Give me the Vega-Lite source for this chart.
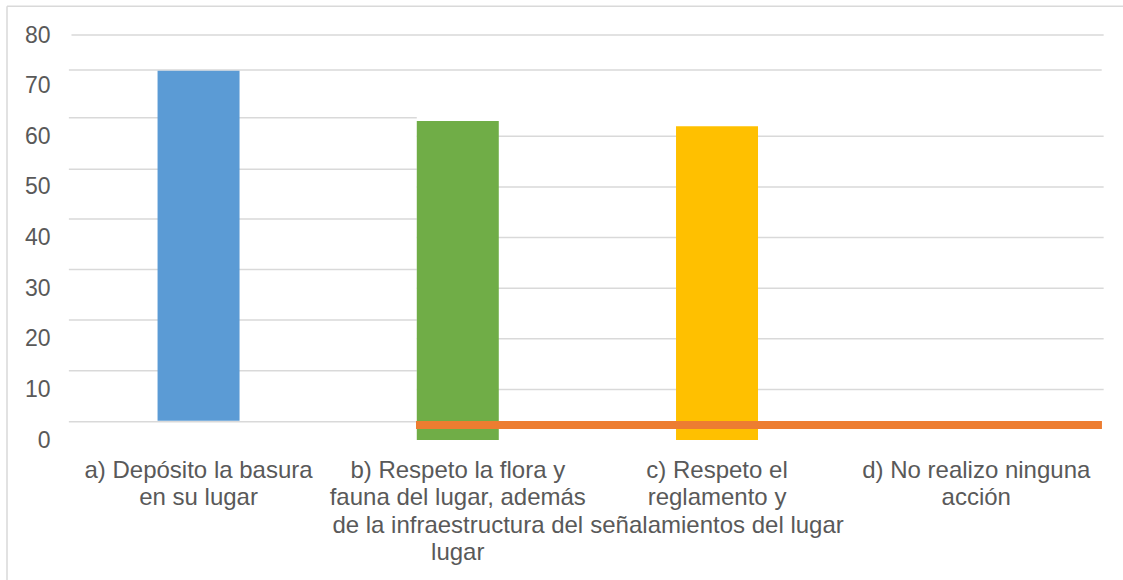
{
  "$schema": "https://vega.github.io/schema/vega-lite/v6.json",
  "width": 1116.5,
  "height": 574.3,
  "autosize": {"type": "none"},
  "padding": {"left": 6.5, "top": 5.7, "right": 0, "bottom": 0},
  "background": "white",
  "config": {"view": {"stroke": null}, "font": "Liberation Sans"},
  "datasets": {
    "barras": [
      {"categoria": "a) Depósito la basura\nen su lugar", "desde": 3.8, "hasta": 72.95},
      {"categoria": "b) Respeto la flora y\nfauna del lugar, además\nde la infraestructura del\nlugar", "desde": 0, "hasta": 63},
      {"categoria": "c) Respeto el\nreglamento y\nseñalamientos del lugar", "desde": 0, "hasta": 62},
      {"categoria": "d) No realizo ninguna\nacción", "desde": 0, "hasta": 0}
    ],
    "grid": [
      {"valor": 80, "desde": -0.49, "hasta": 3.4916},
      {"valor": 73.1, "desde": -0.5, "hasta": 3.484},
      {"valor": 63.66, "desde": -0.5, "hasta": 0.842},
      {"valor": 53.5, "desde": -0.5, "hasta": 0.842},
      {"valor": 43.65, "desde": -0.5, "hasta": 0.842},
      {"valor": 33.7, "desde": -0.5, "hasta": 0.842},
      {"valor": 23.7, "desde": -0.5, "hasta": 0.842},
      {"valor": 13.7, "desde": -0.5, "hasta": 0.842},
      {"valor": 3.6, "desde": -0.5, "hasta": 0.842},
      {"valor": 60, "desde": 0.842, "hasta": 3.4916},
      {"valor": 50, "desde": 0.842, "hasta": 3.4916},
      {"valor": 40, "desde": 0.842, "hasta": 3.4916},
      {"valor": 30, "desde": 0.842, "hasta": 3.4916},
      {"valor": 20, "desde": 0.842, "hasta": 3.4916},
      {"valor": 10, "desde": 0.842, "hasta": 3.4916}
    ],
    "serie": [
      {"valor": 2.96, "desde": 0.839, "hasta": 3.485}
    ]
  },
  "layer": [
    {
      "data": {"name": "grid"},
      "mark": {"type": "rule", "color": "#d9d9d9", "strokeWidth": 1.5},
      "encoding": {
        "x": {"field": "desde", "type": "quantitative", "scale": {"domain": [-0.7406, 3.5662], "nice": false, "zero": false},
          "axis": {"orient": "top", "title": null, "domain": true, "domainColor": "#d9d9d9", "domainWidth": 1.5, "ticks": false, "labels": false, "grid": false}},
        "x2": {"field": "hasta"},
        "y": {"field": "valor", "type": "quantitative", "scale": {"domain": [-27.654, 85.788], "nice": false, "zero": false},
          "axis": {"orient": "left", "title": null, "values": [0, 10, 20, 30, 40, 50, 60, 70, 80], "domain": true, "domainColor": "#d9d9d9", "domainWidth": 1.5, "ticks": false, "tickSize": 0, "grid": false, "labelPadding": -43.5, "labelFont": "Liberation Sans", "labelFontSize": 23, "labelColor": "#595959", "labelBaseline": "middle", "labelAlign": "right"}}
      }
    },
    {
      "data": {"name": "barras"},
      "mark": {"type": "bar"},
      "encoding": {
        "x": {"field": "categoria", "type": "nominal", "sort": null,
          "scale": {"range": [62.4, 1099.4], "paddingInner": 0.6837, "paddingOuter": 0.342},
          "axis": {"orient": "bottom", "title": null, "domain": false, "ticks": false, "tickSize": 0, "grid": false, "labelAngle": 0, "labelPadding": -122, "labelFont": "Liberation Sans", "labelFontSize": 24, "labelColor": "#595959", "labelLineHeight": 27.5, "labelLimit": 1000, "labelOverlap": false, "labelBaseline": "top", "labelExpr": "split(datum.label, '\\n')"}},
        "y": {"field": "desde", "type": "quantitative", "scale": {"domain": [-27.654, 85.788], "nice": false, "zero": false},
          "axis": {"orient": "left", "title": null, "values": [0, 10, 20, 30, 40, 50, 60, 70, 80], "domain": true, "domainColor": "#d9d9d9", "domainWidth": 1.5, "ticks": false, "tickSize": 0, "grid": false, "labelPadding": -43.5, "labelFont": "Liberation Sans", "labelFontSize": 23, "labelColor": "#595959", "labelBaseline": "middle", "labelAlign": "right"}},
        "y2": {"field": "hasta"},
        "color": {"field": "categoria", "type": "nominal", "sort": null, "scale": {"range": ["#5B9BD5", "#70AD47", "#FFC000", "#A5A5A5"]}, "legend": null}
      }
    },
    {
      "data": {"name": "serie"},
      "mark": {"type": "rule", "color": "#ED7D31", "strokeWidth": 8, "strokeCap": "butt"},
      "encoding": {
        "x": {"field": "desde", "type": "quantitative", "scale": {"domain": [-0.7406, 3.5662], "nice": false, "zero": false}, "axis": null},
        "x2": {"field": "hasta"},
        "y": {"field": "valor", "type": "quantitative", "scale": {"domain": [-27.654, 85.788], "nice": false, "zero": false},
          "axis": {"orient": "left", "title": null, "values": [0, 10, 20, 30, 40, 50, 60, 70, 80], "domain": true, "domainColor": "#d9d9d9", "domainWidth": 1.5, "ticks": false, "tickSize": 0, "grid": false, "labelPadding": -43.5, "labelFont": "Liberation Sans", "labelFontSize": 23, "labelColor": "#595959", "labelBaseline": "middle", "labelAlign": "right"}}
      }
    }
  ],
  "resolve": {"scale": {"x": "independent"}}
}
